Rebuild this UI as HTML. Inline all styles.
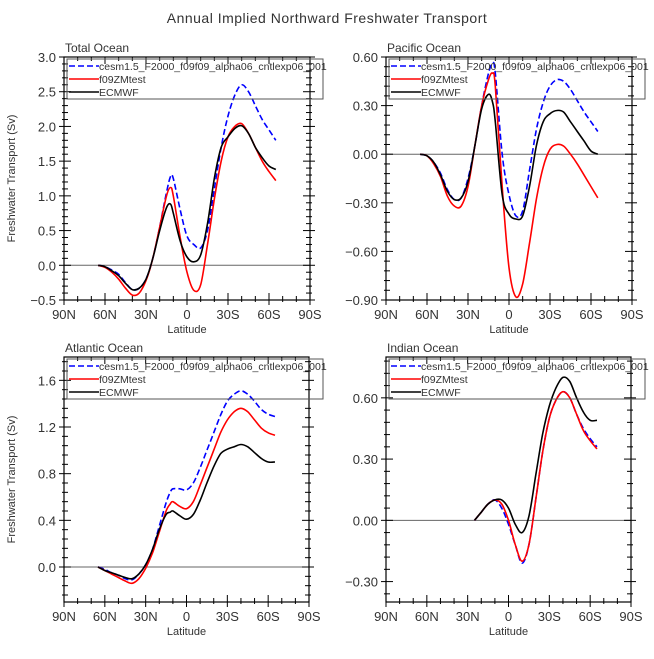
<!DOCTYPE html>
<html><head><meta charset="utf-8"><style>
body{margin:0;background:#fff;}
svg text{font-family:"Liberation Sans",sans-serif;}
</style></head><body>
<svg id="chart" width="654" height="654" viewBox="0 0 654 654" xmlns="http://www.w3.org/2000/svg">
<text x="327" y="23" text-anchor="middle" font-size="14" fill="#333" letter-spacing="0.5">Annual Implied Northward Freshwater Transport</text>
</svg>
<script>
// latitude in degrees south-positive (negative = north)
const latFull = [-65,-60,-55,-50,-45,-40,-35,-30,-25,-20,-15,-12,-10,-5,0,5,10,15,20,25,30,35,40,45,50,55,60,65];
const latIndian = [-25,-20,-15,-10,-5,0,5,10,15,20,25,30,35,40,45,50,55,60,65];
const seriesNames = ["cesm1.5_F2000_f09f09_alpha06_cntlexp06_001","f09ZMtest","ECMWF"];
const xTickLabels = ["90N","60N","30N","0","30S","60S","90S"];
// Total Ocean
const totalBlue  = [0,-0.02,-0.07,-0.13,-0.25,-0.35,-0.33,-0.2,0.1,0.55,1.05,1.28,1.25,0.8,0.42,0.3,0.25,0.5,1.1,1.7,2.15,2.45,2.6,2.5,2.3,2.1,1.95,1.8];
const totalRed   = [0,-0.03,-0.1,-0.2,-0.33,-0.43,-0.4,-0.22,0.1,0.55,1.0,1.12,1.0,0.4,-0.1,-0.36,-0.28,0.3,0.95,1.5,1.85,2.0,2.04,1.9,1.7,1.5,1.35,1.22];
const totalBlack = [0,-0.02,-0.08,-0.15,-0.26,-0.35,-0.33,-0.2,0.1,0.5,0.83,0.88,0.75,0.35,0.12,0.05,0.15,0.6,1.25,1.7,1.85,1.97,2.01,1.9,1.7,1.55,1.43,1.38];
// Pacific Ocean
const pacBlue  = [0,-0.01,-0.05,-0.12,-0.22,-0.28,-0.27,-0.15,0.05,0.3,0.5,0.56,0.5,0.0,-0.25,-0.38,-0.35,-0.1,0.15,0.32,0.42,0.46,0.45,0.4,0.33,0.26,0.2,0.14];
const pacRed   = [0,-0.01,-0.06,-0.14,-0.26,-0.32,-0.32,-0.2,0.05,0.3,0.46,0.5,0.42,-0.2,-0.7,-0.88,-0.8,-0.55,-0.28,-0.08,0.03,0.06,0.05,0.0,-0.06,-0.13,-0.2,-0.27];
const pacBlack = [0,-0.01,-0.05,-0.13,-0.23,-0.28,-0.27,-0.17,0.05,0.28,0.37,0.32,0.2,-0.25,-0.37,-0.4,-0.38,-0.2,0.05,0.2,0.25,0.27,0.26,0.2,0.14,0.08,0.02,0.0];
// Atlantic Ocean
const atlBlue  = [0,-0.02,-0.05,-0.07,-0.1,-0.11,-0.06,0.02,0.15,0.35,0.55,0.64,0.67,0.67,0.66,0.72,0.85,1.0,1.15,1.3,1.42,1.48,1.51,1.48,1.42,1.35,1.31,1.29];
const atlRed   = [0,-0.03,-0.06,-0.09,-0.12,-0.14,-0.1,-0.01,0.12,0.3,0.48,0.54,0.56,0.52,0.5,0.56,0.7,0.85,1.0,1.15,1.26,1.33,1.36,1.33,1.26,1.19,1.15,1.13];
const atlBlack = [0,-0.03,-0.05,-0.07,-0.09,-0.1,-0.06,0.02,0.15,0.32,0.45,0.47,0.48,0.44,0.41,0.45,0.57,0.72,0.86,0.97,1.01,1.03,1.05,1.03,0.98,0.93,0.9,0.9];
// Indian Ocean
const indBlue  = [0,0.04,0.08,0.1,0.06,-0.02,-0.12,-0.21,-0.12,0.1,0.33,0.5,0.59,0.63,0.6,0.52,0.45,0.4,0.36];
const indRed   = [0,0.04,0.08,0.1,0.08,0.0,-0.12,-0.2,-0.12,0.1,0.33,0.5,0.59,0.63,0.6,0.52,0.44,0.39,0.35];
const indBlack = [0,0.04,0.08,0.1,0.1,0.06,-0.02,-0.06,0.02,0.22,0.42,0.56,0.65,0.7,0.68,0.6,0.53,0.49,0.49];

const NS='http://www.w3.org/2000/svg';
const svg=document.getElementById('chart');
function mk(tag,attrs,parent){const e=document.createElementNS(NS,tag);for(const k in attrs)e.setAttribute(k,attrs[k]);(parent||svg).appendChild(e);return e;}
function smooth(pts){let d='M'+pts[0][0]+','+pts[0][1];for(let i=0;i<pts.length-1;i++){const p0=pts[Math.max(i-1,0)],p1=pts[i],p2=pts[i+1],p3=pts[Math.min(i+2,pts.length-1)];
const c1=[p1[0]+(p2[0]-p0[0])/6,p1[1]+(p2[1]-p0[1])/6],c2=[p2[0]-(p3[0]-p1[0])/6,p2[1]-(p3[1]-p1[1])/6];
d+=' C'+c1[0].toFixed(1)+','+c1[1].toFixed(1)+' '+c2[0].toFixed(1)+','+c2[1].toFixed(1)+' '+p2[0].toFixed(1)+','+p2[1].toFixed(1);}return d;}

const panels=[
 {name:'total-ocean',title:'Total Ocean',L:64,T:57,W:246,H:243,ymin:-0.5,ymax:3.0,major:0.5,minor:0.1,dec:1,lat:latFull,data:[totalBlue,totalRed,totalBlack],ylabel:true},
 {name:'pacific-ocean',title:'Pacific Ocean',L:386,T:57,W:246,H:243,ymin:-0.9,ymax:0.6,major:0.3,minor:0.06,dec:2,lat:latFull,data:[pacBlue,pacRed,pacBlack],ylabel:false},
 {name:'atlantic-ocean',title:'Atlantic Ocean',L:64,T:357,W:245,H:245,ymin:-0.3,ymax:1.8,major:0.4,minor:0.08,dec:1,lat:latFull,data:[atlBlue,atlRed,atlBlack],ylabel:true},
 {name:'indian-ocean',title:'Indian Ocean',L:386,T:357,W:245,H:245,ymin:-0.4,ymax:0.8,major:0.3,minor:0.06,dec:2,lat:latIndian,data:[indBlue,indRed,indBlack],ylabel:false}
];
const colors=['#0000ff','#ff0000','#000000'];
panels.forEach(p=>{
 const g=mk('g',{});
 
 
 const xs=t=>p.L+(t+90)/180*p.W;
 const ys=v=>p.T+(p.ymax-v)/(p.ymax-p.ymin)*p.H;
 const t1=mk('text',{x:p.L+1,y:p.T-5,'font-size':12,fill:'#333'},g);t1.textContent=p.title;
 
 
 const z=mk('line',{x1:p.L,x2:p.L+p.W,y1:ys(0),y2:ys(0),stroke:'#666','stroke-width':1},g);
 
 
 const eps=1e-6;
 for(let v=Math.ceil((p.ymin-eps)/p.minor)*p.minor; v<=p.ymax+eps; v+=p.minor){
  const isMaj=Math.abs(v/p.major-Math.round(v/p.major))<1e-4;
  const y=ys(v),len=isMaj?7:4;
  mk('line',{x1:p.L,x2:p.L+len,y1:y,y2:y,stroke:'#000'},g);
  mk('line',{x1:p.L+p.W,x2:p.L+p.W-len,y1:y,y2:y,stroke:'#000'},g);
  mk('line',{x1:p.L,x2:p.L-len+2,y1:y,y2:y,stroke:'#000'},g);
  mk('line',{x1:p.L+p.W,x2:p.L+p.W+len-2,y1:y,y2:y,stroke:'#000'},g);
  if(isMaj){const tx=mk('text',{x:p.L-8,y:y+5,'font-size':13,'text-anchor':'end',fill:'#333'},g);
   let s=Math.abs(v)<1e-6?(0).toFixed(p.dec):v.toFixed(p.dec);tx.textContent=s.replace('-','\u2212');
   
   }
 }
 for(let t=-90;t<=90;t+=10){const x=xs(t),maj=t%30===0,len=maj?7:4;
  mk('line',{x1:x,x2:x,y1:p.T+p.H,y2:p.T+p.H-len,stroke:'#000'},g);
  mk('line',{x1:x,x2:x,y1:p.T,y2:p.T+len,stroke:'#000'},g);
  mk('line',{x1:x,x2:x,y1:p.T+p.H,y2:p.T+p.H+len-2,stroke:'#000'},g);
  if(maj){const tx=mk('text',{x:x,y:p.T+p.H+19,'font-size':13,'text-anchor':'middle',fill:'#333'},g);
   tx.textContent=xTickLabels[(t+90)/30];
   
   }
 }
 const xl=mk('text',{x:p.L+p.W/2,y:p.T+p.H+33,'font-size':11,'text-anchor':'middle',fill:'#333'},g);xl.textContent='Latitude';
 
 
 if(p.ylabel){const yl=mk('text',{x:0,y:0,'font-size':11,'text-anchor':'middle',fill:'#333',transform:'translate(15,'+(p.T+p.H/2)+') rotate(-90)'},g);yl.textContent='Freshwater Transport (Sv)';
  
  }
 p.data.forEach((arr,i)=>{
  const pts=arr.map((v,j)=>[xs(p.lat[j]),ys(v)]);
  const path=mk('path',{d:smooth(pts),fill:'none',stroke:colors[i],'stroke-width':1.6,'stroke-dasharray':i===0?'6,3':'none'},g);
  
  
 });
 mk('rect',{x:p.L,y:p.T,width:p.W,height:p.H,fill:'none',stroke:'#000','stroke-width':1.2},g);
 const lg=mk('g',{},g);
 
 
 mk('rect',{x:p.L+3,y:p.T+2,width:256,height:40,fill:'none',stroke:'#555','stroke-width':1},lg);
 seriesNames.forEach((n,i)=>{const y=p.T+9+i*13;
  mk('line',{x1:p.L+5,x2:p.L+35,y1:y,y2:y,stroke:colors[i],'stroke-width':1.6,'stroke-dasharray':i===0?'6,3':'none'},lg);
  const tx=mk('text',{x:p.L+35,y:y+4,'font-size':10.5,fill:'#333'},lg);tx.textContent=n;
  
  
 });
});
</script>
</body></html>
